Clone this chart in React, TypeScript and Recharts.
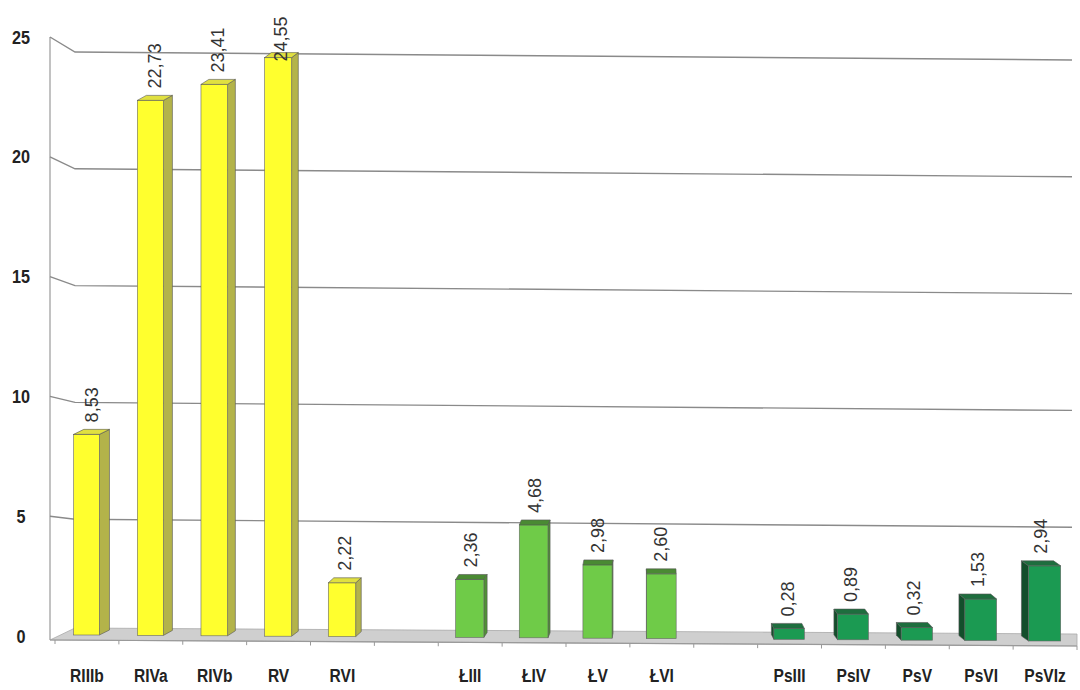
import { BarChart, Bar, XAxis, YAxis, CartesianGrid, LabelList } from "recharts";

const rCategories = ["RIIIb", "RIVa", "RIVb", "RV", "RVI"];
const rValues = [8.53, 22.73, 23.41, 24.55, 2.22];
const lCategories = ["ŁIII", "ŁIV", "ŁV", "ŁVI"];
const lValues = [2.36, 4.68, 2.98, 2.6];
const psCategories = ["PsIII", "PsIV", "PsV", "PsVI", "PsVIz"];
const psValues = [0.28, 0.89, 0.32, 1.53, 2.94];
const yTicks = [0, 5, 10, 15, 20, 25];

const palette: Record<string, { front: string; side: string; top: string }> = {
  r: { front: "#FFFF2E", side: "#B3B34A", top: "#E0E040" },
  l: { front: "#6FCB48", side: "#4F9234", top: "#4A8A33" },
  ps: { front: "#1B9A52", side: "#134E2B", top: "#1E6E3E" },
};

const group = (names: string[], values: number[], key: string) =>
  names.map((name, i) => ({ name, value: values[i], group: key }));

const data = [
  ...group(rCategories, rValues, "r"),
  { name: "_gap1", value: null, group: "" },
  ...group(lCategories, lValues, "l"),
  { name: "_gap2", value: null, group: "" },
  ...group(psCategories, psValues, "ps"),
];

const W = 1080;
const H = 690;
const TOP = 47;
const BOTTOM = 635;
const MAX = 25;
const FONT = "Liberation Sans, Arial, sans-serif";

// fake perspective: side face swings from right to left across the chart,
// bars get a little wider and sit a little lower towards the right
const depthX = (cx: number) => (650 - cx) * 0.018;
const widen = (cx: number) => 0.93 + cx * 0.00025;
const sink = (cx: number) => Math.max(0, (cx - 87) / 958) * 6;
const DEPTH_Y = 5;

const Bar3D = (props: any) => {
  const { x: bx, y, width: bw, height: bh, payload } = props;
  if (payload == null || payload.value == null || !payload.group) return null;
  const c = palette[payload.group];
  const cx = bx + bw / 2;
  const width = bw * widen(cx);
  const x = cx - width / 2;
  const height = bh + sink(cx);
  const dx = depthX(cx);
  const dy = DEPTH_Y;
  const side =
    dx > 0
      ? `${x + width},${y} ${x + width + dx},${y - dy} ${x + width + dx},${y + height - dy} ${x + width},${y + height}`
      : `${x},${y} ${x + dx},${y - dy} ${x + dx},${y + height - dy} ${x},${y + height}`;
  const top = `${x},${y} ${x + dx},${y - dy} ${x + width + dx},${y - dy} ${x + width},${y}`;
  return (
    <g>
      <polygon points={side} fill={c.side} stroke="#555" strokeWidth={0.6} />
      <rect x={x} y={y} width={width} height={height} fill={c.front} stroke="#666" strokeWidth={0.6} />
      <polygon points={top} fill={c.top} stroke="#555" strokeWidth={0.6} />
    </g>
  );
};

const ValueLabel = (props: any) => {
  const { x, y, width, value } = props;
  if (value == null) return null;
  const text = Number(value).toFixed(2).replace(".", ",");
  const cx = x + width / 2 + depthX(x + width / 2) / 2;
  const len = text.length * 9.9;
  const start = Math.max(y - 12, 12 + len);
  return (
    <text
      x={cx + 6}
      y={start}
      transform={`rotate(-90 ${cx + 6} ${start})`}
      textAnchor="start"
      fontSize={18}
      fontFamily={FONT}
      fill="#333"
    >
      {text}
    </text>
  );
};

const YTick = (props: any) => {
  const { y, payload } = props;
  const v = payload.value;
  const cy = y + 1 - 11 * (v / MAX);
  return (
    <text
      transform={`translate(21 ${cy + 6.5}) scale(0.9 1)`}
      textAnchor="middle"
      fontSize={18}
      fontWeight="bold"
      fontFamily={FONT}
      fill="#222"
    >
      {v}
    </text>
  );
};

const XTick = (props: any) => {
  const { x, payload } = props;
  if (String(payload.value).startsWith("_")) return null;
  return (
    <text
      transform={`translate(${x} 682) scale(0.82 1)`}
      textAnchor="middle"
      fontSize={19}
      fontWeight="bold"
      fontFamily={FONT}
      fill="#222"
    >
      {payload.value}
    </text>
  );
};

const GridLine = (props: any) => {
  const { x1, x2, y1, index } = props;
  const v = ((BOTTOM - y1) / (BOTTOM - TOP)) * MAX;
  const leftX = x1 - 5;
  const wallX = x1 + 20;
  const rightX = x2 - 5;
  if (v < 0.5) {
    const slots = data.length;
    const slot = (x2 - x1) / slots;
    const ticks = [];
    for (let i = 0; i <= slots; i++) {
      const tx = x1 + i * slot;
      const ty = 640 + (i / slots) * 6;
      ticks.push(<line key={i} x1={tx} y1={ty} x2={tx} y2={ty + 4} stroke="#999" strokeWidth={1} />);
    }
    return (
      <g key={`floor-${index}`}>
        <line x1={leftX} y1={37} x2={leftX} y2={640} stroke="#999" strokeWidth={1.2} />
        <polygon
          points={`${leftX},640 ${wallX},628 ${rightX + 5},634 ${rightX + 5},646`}
          fill="#CFCFCF"
          stroke="#AAA"
          strokeWidth={0.8}
        />
        <line x1={leftX} y1={640} x2={rightX + 5} y2={646} stroke="#999" strokeWidth={1.2} />
        {ticks}
      </g>
    );
  }
  const yLeft = y1 + 1 - 11 * (v / MAX);
  const yWall = y1 + 1 + 4 * (v / MAX);
  return (
    <path
      key={`grid-${index}`}
      d={`M ${leftX} ${yLeft} L ${wallX} ${yWall} L ${rightX} ${yWall + 8}`}
      fill="none"
      stroke="#8A8A8A"
      strokeWidth={1.4}
    />
  );
};

export default function App() {
  return (
    <div style={{ position: "absolute", left: 0, top: 0, width: W, height: H, background: "#fff" }}>
      <BarChart
        width={W}
        height={H}
        data={data}
        margin={{ top: TOP, right: 3, bottom: 0, left: 0 }}
        barCategoryGap={0}
      >
        <CartesianGrid vertical={false} horizontal={GridLine as any} />
        <XAxis
          dataKey="name"
          interval={0}
          axisLine={false}
          tickLine={false}
          height={H - BOTTOM}
          tick={<XTick />}
        />
        <YAxis
          domain={[0, MAX]}
          ticks={yTicks}
          width={55}
          axisLine={false}
          tickLine={false}
          tick={<YTick />}
        />
        <Bar dataKey="value" barSize={27} shape={<Bar3D />} isAnimationActive={false}>
          <LabelList dataKey="value" content={<ValueLabel />} />
        </Bar>
      </BarChart>
    </div>
  );
}
